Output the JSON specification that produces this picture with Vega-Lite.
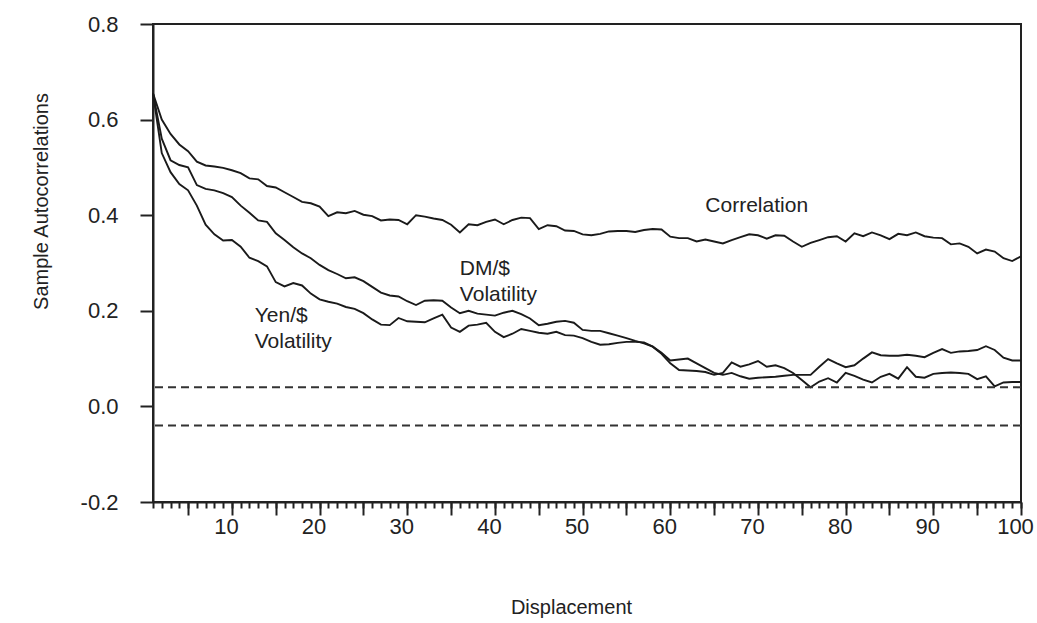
{
  "$schema": "https://vega.github.io/schema/vega-lite/v6.json",
  "width": 868,
  "height": 478,
  "autosize": {"type": "none"},
  "padding": {"left": 153, "top": 24, "right": 16, "bottom": 121},
  "background": "white",
  "config": {
    "view": {"stroke": "#222222", "strokeWidth": 2},
    "axis": {
      "grid": false,
      "domainColor": "#222222",
      "domainWidth": 2,
      "tickColor": "#222222",
      "tickWidth": 2,
      "labelFont": "Liberation Sans",
      "labelFontSize": 22,
      "labelColor": "#222222",
      "titleFont": "Liberation Sans",
      "titleFontSize": 20,
      "titleFontWeight": "normal",
      "titleColor": "#222222"
    }
  },
  "datasets": {
    "series": [
      {"series":"Correlation","lag":1,"value":0.655},{"series":"Correlation","lag":2,"value":0.60},{"series":"Correlation","lag":3,"value":0.57},{"series":"Correlation","lag":4,"value":0.548},{"series":"Correlation","lag":5,"value":0.534},{"series":"Correlation","lag":6,"value":0.512},{"series":"Correlation","lag":7,"value":0.504},{"series":"Correlation","lag":8,"value":0.502},{"series":"Correlation","lag":9,"value":0.499},{"series":"Correlation","lag":10,"value":0.494},
      {"series":"Correlation","lag":11,"value":0.488},{"series":"Correlation","lag":12,"value":0.477},{"series":"Correlation","lag":13,"value":0.475},{"series":"Correlation","lag":14,"value":0.461},{"series":"Correlation","lag":15,"value":0.458},{"series":"Correlation","lag":16,"value":0.448},{"series":"Correlation","lag":17,"value":0.438},{"series":"Correlation","lag":18,"value":0.428},{"series":"Correlation","lag":19,"value":0.425},{"series":"Correlation","lag":20,"value":0.418},
      {"series":"Correlation","lag":21,"value":0.398},{"series":"Correlation","lag":22,"value":0.406},{"series":"Correlation","lag":23,"value":0.404},{"series":"Correlation","lag":24,"value":0.409},{"series":"Correlation","lag":25,"value":0.401},{"series":"Correlation","lag":26,"value":0.398},{"series":"Correlation","lag":27,"value":0.389},{"series":"Correlation","lag":28,"value":0.391},{"series":"Correlation","lag":29,"value":0.390},{"series":"Correlation","lag":30,"value":0.381},
      {"series":"Correlation","lag":31,"value":0.400},{"series":"Correlation","lag":32,"value":0.397},{"series":"Correlation","lag":33,"value":0.393},{"series":"Correlation","lag":34,"value":0.390},{"series":"Correlation","lag":35,"value":0.380},{"series":"Correlation","lag":36,"value":0.364},{"series":"Correlation","lag":37,"value":0.381},{"series":"Correlation","lag":38,"value":0.379},{"series":"Correlation","lag":39,"value":0.386},{"series":"Correlation","lag":40,"value":0.391},
      {"series":"Correlation","lag":41,"value":0.381},{"series":"Correlation","lag":42,"value":0.390},{"series":"Correlation","lag":43,"value":0.395},{"series":"Correlation","lag":44,"value":0.394},{"series":"Correlation","lag":45,"value":0.371},{"series":"Correlation","lag":46,"value":0.379},{"series":"Correlation","lag":47,"value":0.377},{"series":"Correlation","lag":48,"value":0.368},{"series":"Correlation","lag":49,"value":0.367},{"series":"Correlation","lag":50,"value":0.360},
      {"series":"Correlation","lag":51,"value":0.358},{"series":"Correlation","lag":52,"value":0.361},{"series":"Correlation","lag":53,"value":0.366},{"series":"Correlation","lag":54,"value":0.367},{"series":"Correlation","lag":55,"value":0.367},{"series":"Correlation","lag":56,"value":0.365},{"series":"Correlation","lag":57,"value":0.369},{"series":"Correlation","lag":58,"value":0.371},{"series":"Correlation","lag":59,"value":0.370},{"series":"Correlation","lag":60,"value":0.355},
      {"series":"Correlation","lag":61,"value":0.352},{"series":"Correlation","lag":62,"value":0.352},{"series":"Correlation","lag":63,"value":0.345},{"series":"Correlation","lag":64,"value":0.349},{"series":"Correlation","lag":65,"value":0.345},{"series":"Correlation","lag":66,"value":0.341},{"series":"Correlation","lag":67,"value":0.348},{"series":"Correlation","lag":68,"value":0.354},{"series":"Correlation","lag":69,"value":0.360},{"series":"Correlation","lag":70,"value":0.358},
      {"series":"Correlation","lag":71,"value":0.351},{"series":"Correlation","lag":72,"value":0.358},{"series":"Correlation","lag":73,"value":0.357},{"series":"Correlation","lag":74,"value":0.345},{"series":"Correlation","lag":75,"value":0.334},{"series":"Correlation","lag":76,"value":0.342},{"series":"Correlation","lag":77,"value":0.348},{"series":"Correlation","lag":78,"value":0.354},{"series":"Correlation","lag":79,"value":0.356},{"series":"Correlation","lag":80,"value":0.345},
      {"series":"Correlation","lag":81,"value":0.362},{"series":"Correlation","lag":82,"value":0.356},{"series":"Correlation","lag":83,"value":0.364},{"series":"Correlation","lag":84,"value":0.358},{"series":"Correlation","lag":85,"value":0.350},{"series":"Correlation","lag":86,"value":0.361},{"series":"Correlation","lag":87,"value":0.358},{"series":"Correlation","lag":88,"value":0.364},{"series":"Correlation","lag":89,"value":0.356},{"series":"Correlation","lag":90,"value":0.353},
      {"series":"Correlation","lag":91,"value":0.352},{"series":"Correlation","lag":92,"value":0.339},{"series":"Correlation","lag":93,"value":0.341},{"series":"Correlation","lag":94,"value":0.334},{"series":"Correlation","lag":95,"value":0.320},{"series":"Correlation","lag":96,"value":0.328},{"series":"Correlation","lag":97,"value":0.324},{"series":"Correlation","lag":98,"value":0.310},{"series":"Correlation","lag":99,"value":0.304},{"series":"Correlation","lag":100,"value":0.314},

      {"series":"DM","lag":1,"value":0.655},{"series":"DM","lag":2,"value":0.56},{"series":"DM","lag":3,"value":0.515},{"series":"DM","lag":4,"value":0.505},{"series":"DM","lag":5,"value":0.500},{"series":"DM","lag":6,"value":0.463},{"series":"DM","lag":7,"value":0.455},{"series":"DM","lag":8,"value":0.452},{"series":"DM","lag":9,"value":0.446},{"series":"DM","lag":10,"value":0.438},
      {"series":"DM","lag":11,"value":0.420},{"series":"DM","lag":12,"value":0.405},{"series":"DM","lag":13,"value":0.389},{"series":"DM","lag":14,"value":0.386},{"series":"DM","lag":15,"value":0.362},{"series":"DM","lag":16,"value":0.348},{"series":"DM","lag":17,"value":0.333},{"series":"DM","lag":18,"value":0.320},{"series":"DM","lag":19,"value":0.310},{"series":"DM","lag":20,"value":0.296},
      {"series":"DM","lag":21,"value":0.285},{"series":"DM","lag":22,"value":0.277},{"series":"DM","lag":23,"value":0.268},{"series":"DM","lag":24,"value":0.270},{"series":"DM","lag":25,"value":0.262},{"series":"DM","lag":26,"value":0.250},{"series":"DM","lag":27,"value":0.238},{"series":"DM","lag":28,"value":0.232},{"series":"DM","lag":29,"value":0.230},{"series":"DM","lag":30,"value":0.220},
      {"series":"DM","lag":31,"value":0.212},{"series":"DM","lag":32,"value":0.221},{"series":"DM","lag":33,"value":0.222},{"series":"DM","lag":34,"value":0.221},{"series":"DM","lag":35,"value":0.207},{"series":"DM","lag":36,"value":0.195},{"series":"DM","lag":37,"value":0.200},{"series":"DM","lag":38,"value":0.194},{"series":"DM","lag":39,"value":0.192},{"series":"DM","lag":40,"value":0.190},
      {"series":"DM","lag":41,"value":0.196},{"series":"DM","lag":42,"value":0.200},{"series":"DM","lag":43,"value":0.193},{"series":"DM","lag":44,"value":0.184},{"series":"DM","lag":45,"value":0.170},{"series":"DM","lag":46,"value":0.173},{"series":"DM","lag":47,"value":0.177},{"series":"DM","lag":48,"value":0.179},{"series":"DM","lag":49,"value":0.175},{"series":"DM","lag":50,"value":0.160},
      {"series":"DM","lag":51,"value":0.158},{"series":"DM","lag":52,"value":0.158},{"series":"DM","lag":53,"value":0.153},{"series":"DM","lag":54,"value":0.148},{"series":"DM","lag":55,"value":0.143},{"series":"DM","lag":56,"value":0.137},{"series":"DM","lag":57,"value":0.132},{"series":"DM","lag":58,"value":0.125},{"series":"DM","lag":59,"value":0.112},{"series":"DM","lag":60,"value":0.096},
      {"series":"DM","lag":61,"value":0.098},{"series":"DM","lag":62,"value":0.100},{"series":"DM","lag":63,"value":0.090},{"series":"DM","lag":64,"value":0.080},{"series":"DM","lag":65,"value":0.070},{"series":"DM","lag":66,"value":0.066},{"series":"DM","lag":67,"value":0.070},{"series":"DM","lag":68,"value":0.063},{"series":"DM","lag":69,"value":0.058},{"series":"DM","lag":70,"value":0.060},
      {"series":"DM","lag":71,"value":0.061},{"series":"DM","lag":72,"value":0.062},{"series":"DM","lag":73,"value":0.064},{"series":"DM","lag":74,"value":0.066},{"series":"DM","lag":75,"value":0.066},{"series":"DM","lag":76,"value":0.066},{"series":"DM","lag":77,"value":0.083},{"series":"DM","lag":78,"value":0.099},{"series":"DM","lag":79,"value":0.090},{"series":"DM","lag":80,"value":0.082},
      {"series":"DM","lag":81,"value":0.086},{"series":"DM","lag":82,"value":0.100},{"series":"DM","lag":83,"value":0.113},{"series":"DM","lag":84,"value":0.107},{"series":"DM","lag":85,"value":0.106},{"series":"DM","lag":86,"value":0.106},{"series":"DM","lag":87,"value":0.108},{"series":"DM","lag":88,"value":0.106},{"series":"DM","lag":89,"value":0.103},{"series":"DM","lag":90,"value":0.112},
      {"series":"DM","lag":91,"value":0.120},{"series":"DM","lag":92,"value":0.112},{"series":"DM","lag":93,"value":0.115},{"series":"DM","lag":94,"value":0.116},{"series":"DM","lag":95,"value":0.118},{"series":"DM","lag":96,"value":0.126},{"series":"DM","lag":97,"value":0.118},{"series":"DM","lag":98,"value":0.102},{"series":"DM","lag":99,"value":0.096},{"series":"DM","lag":100,"value":0.096},

      {"series":"Yen","lag":1,"value":0.655},{"series":"Yen","lag":2,"value":0.53},{"series":"Yen","lag":3,"value":0.49},{"series":"Yen","lag":4,"value":0.465},{"series":"Yen","lag":5,"value":0.452},{"series":"Yen","lag":6,"value":0.420},{"series":"Yen","lag":7,"value":0.380},{"series":"Yen","lag":8,"value":0.360},{"series":"Yen","lag":9,"value":0.347},{"series":"Yen","lag":10,"value":0.348},
      {"series":"Yen","lag":11,"value":0.334},{"series":"Yen","lag":12,"value":0.311},{"series":"Yen","lag":13,"value":0.304},{"series":"Yen","lag":14,"value":0.293},{"series":"Yen","lag":15,"value":0.260},{"series":"Yen","lag":16,"value":0.251},{"series":"Yen","lag":17,"value":0.258},{"series":"Yen","lag":18,"value":0.253},{"series":"Yen","lag":19,"value":0.236},{"series":"Yen","lag":20,"value":0.224},
      {"series":"Yen","lag":21,"value":0.219},{"series":"Yen","lag":22,"value":0.215},{"series":"Yen","lag":23,"value":0.208},{"series":"Yen","lag":24,"value":0.204},{"series":"Yen","lag":25,"value":0.195},{"series":"Yen","lag":26,"value":0.182},{"series":"Yen","lag":27,"value":0.171},{"series":"Yen","lag":28,"value":0.170},{"series":"Yen","lag":29,"value":0.185},{"series":"Yen","lag":30,"value":0.178},
      {"series":"Yen","lag":31,"value":0.177},{"series":"Yen","lag":32,"value":0.176},{"series":"Yen","lag":33,"value":0.184},{"series":"Yen","lag":34,"value":0.192},{"series":"Yen","lag":35,"value":0.165},{"series":"Yen","lag":36,"value":0.156},{"series":"Yen","lag":37,"value":0.169},{"series":"Yen","lag":38,"value":0.171},{"series":"Yen","lag":39,"value":0.175},{"series":"Yen","lag":40,"value":0.156},
      {"series":"Yen","lag":41,"value":0.145},{"series":"Yen","lag":42,"value":0.152},{"series":"Yen","lag":43,"value":0.162},{"series":"Yen","lag":44,"value":0.158},{"series":"Yen","lag":45,"value":0.154},{"series":"Yen","lag":46,"value":0.152},{"series":"Yen","lag":47,"value":0.156},{"series":"Yen","lag":48,"value":0.149},{"series":"Yen","lag":49,"value":0.148},{"series":"Yen","lag":50,"value":0.143},
      {"series":"Yen","lag":51,"value":0.135},{"series":"Yen","lag":52,"value":0.129},{"series":"Yen","lag":53,"value":0.130},{"series":"Yen","lag":54,"value":0.133},{"series":"Yen","lag":55,"value":0.135},{"series":"Yen","lag":56,"value":0.135},{"series":"Yen","lag":57,"value":0.134},{"series":"Yen","lag":58,"value":0.125},{"series":"Yen","lag":59,"value":0.110},{"series":"Yen","lag":60,"value":0.090},
      {"series":"Yen","lag":61,"value":0.076},{"series":"Yen","lag":62,"value":0.075},{"series":"Yen","lag":63,"value":0.074},{"series":"Yen","lag":64,"value":0.072},{"series":"Yen","lag":65,"value":0.066},{"series":"Yen","lag":66,"value":0.070},{"series":"Yen","lag":67,"value":0.092},{"series":"Yen","lag":68,"value":0.083},{"series":"Yen","lag":69,"value":0.088},{"series":"Yen","lag":70,"value":0.095},
      {"series":"Yen","lag":71,"value":0.083},{"series":"Yen","lag":72,"value":0.086},{"series":"Yen","lag":73,"value":0.080},{"series":"Yen","lag":74,"value":0.070},{"series":"Yen","lag":75,"value":0.055},{"series":"Yen","lag":76,"value":0.040},{"series":"Yen","lag":77,"value":0.052},{"series":"Yen","lag":78,"value":0.059},{"series":"Yen","lag":79,"value":0.050},{"series":"Yen","lag":80,"value":0.070},
      {"series":"Yen","lag":81,"value":0.064},{"series":"Yen","lag":82,"value":0.056},{"series":"Yen","lag":83,"value":0.050},{"series":"Yen","lag":84,"value":0.062},{"series":"Yen","lag":85,"value":0.068},{"series":"Yen","lag":86,"value":0.058},{"series":"Yen","lag":87,"value":0.082},{"series":"Yen","lag":88,"value":0.062},{"series":"Yen","lag":89,"value":0.060},{"series":"Yen","lag":90,"value":0.068},
      {"series":"Yen","lag":91,"value":0.070},{"series":"Yen","lag":92,"value":0.071},{"series":"Yen","lag":93,"value":0.070},{"series":"Yen","lag":94,"value":0.068},{"series":"Yen","lag":95,"value":0.057},{"series":"Yen","lag":96,"value":0.063},{"series":"Yen","lag":97,"value":0.042},{"series":"Yen","lag":98,"value":0.050},{"series":"Yen","lag":99,"value":0.051},{"series":"Yen","lag":100,"value":0.051}
    ],
    "bands": [{"value": 0.04}, {"value": -0.04}],
    "labels": [
      {"label": "Correlation", "lag": 64, "value": 0.419},
      {"label": "DM/$", "lag": 36, "value": 0.287},
      {"label": "Volatility", "lag": 36, "value": 0.233},
      {"label": "Yen/$", "lag": 12.6, "value": 0.189},
      {"label": "Volatility", "lag": 12.6, "value": 0.135}
    ]
  },
  "layer": [
    {
      "data": {"name": "series"},
      "mark": {"type": "line", "color": "#1a1a1a", "strokeWidth": 1.9},
      "encoding": {
        "x": {
          "field": "lag", "type": "quantitative",
          "scale": {"domain": [1, 100], "nice": false, "zero": false},
          "axis": {
            "orient": "bottom",
            "title": "Displacement",
            "titleX": 418,
            "titleY": 105,
            "titleAlign": "center",
            "titleBaseline": "middle",
            "values": [5,10,15,20,25,30,35,40,45,50,55,60,65,70,75,80,85,90,95,100],
            "tickSize": 13,
            "labelPadding": 1,
            "labelOffset": -6,
            "labelExpr": "datum.value % 10 == 0 ? datum.value : ''",
            "labelFlush": false,
            "labelOverlap": false
          }
        },
        "y": {
          "field": "value", "type": "quantitative",
          "scale": {"domain": [-0.2, 0.8], "nice": false, "zero": false},
          "axis": {
            "title": "Sample Autocorrelations",
            "titleX": -112,
            "titleY": 177,
            "titleAlign": "center",
            "titleBaseline": "middle",
            "titleAngle": -90,
            "values": [-0.2, 0, 0.2, 0.4, 0.6, 0.8],
            "tickSize": 13,
            "labelPadding": 22,
            "labelExpr": "datum.value < 0 ? '-' + format(abs(datum.value), '.1f') : format(datum.value, '.1f')",
            "labelFlush": false,
            "labelOverlap": false
          }
        },
        "detail": {"field": "series"}
      }
    },
    {
      "data": {"name": "bands"},
      "mark": {"type": "rule", "color": "#333333", "strokeWidth": 2, "strokeDash": [8, 5]},
      "encoding": {
        "y": {"field": "value", "type": "quantitative", "title": "Sample Autocorrelations"}
      }
    },
    {
      "data": {"name": "labels"},
      "mark": {"type": "text", "align": "left", "baseline": "middle", "font": "Liberation Sans", "fontSize": 21, "color": "#222222"},
      "encoding": {
        "x": {
          "field": "lag", "type": "quantitative",
          "axis": {
            "orient": "bottom",
            "title": null,
            "values": [1,2,3,4,5,6,7,8,9,10,11,12,13,14,15,16,17,18,19,20,21,22,23,24,25,26,27,28,29,30,31,32,33,34,35,36,37,38,39,40,41,42,43,44,45,46,47,48,49,50,51,52,53,54,55,56,57,58,59,60,61,62,63,64,65,66,67,68,69,70,71,72,73,74,75,76,77,78,79,80,81,82,83,84,85,86,87,88,89,90,91,92,93,94,95,96,97,98,99,100],
            "tickSize": 6,
            "labels": false,
            "domain": false
          }
        },
        "y": {"field": "value", "type": "quantitative", "title": "Sample Autocorrelations"},
        "text": {"field": "label"}
      }
    }
  ],
  "resolve": {"axis": {"x": "independent"}}
}
